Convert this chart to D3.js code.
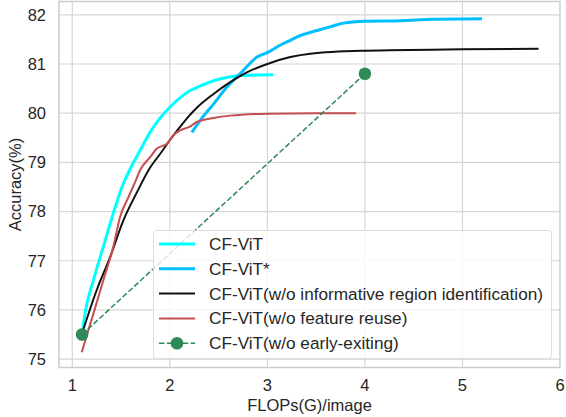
<!DOCTYPE html>
<html>
<head>
<meta charset="utf-8">
<script src="https://d3js.org/d3.v7.min.js"></script>
<style>
  body { margin: 0; background: #fff; }
  text { font-family: "Liberation Sans", Arial, sans-serif; fill: #262626; }
</style>
</head>
<body>
<div id="chart"></div>
<script>
// values
var cfvitX = [1.107, 1.13, 1.216, 1.318, 1.42, 1.51, 1.592, 1.695, 1.80, 1.90, 2.00, 2.105, 2.20, 2.31, 2.45, 2.62, 2.79, 3.06];
var cfvitY = [75.60, 75.92, 76.60, 77.28, 77.96, 78.50, 78.86, 79.24, 79.62, 79.90, 80.12, 80.31, 80.45, 80.55, 80.66, 80.74, 80.77, 80.78];

var starX = [2.226, 2.31, 2.45, 2.585, 2.72, 2.893, 3.01, 3.13, 3.235, 3.34, 3.51, 3.65, 3.78, 4.00, 4.36, 4.71, 5.20];
var starY = [79.61, 79.85, 80.19, 80.53, 80.80, 81.14, 81.24, 81.38, 81.48, 81.58, 81.68, 81.76, 81.83, 81.87, 81.88, 81.91, 81.92];

var noRegionX = [1.10, 1.25, 1.387, 1.524, 1.66, 1.80, 1.90, 2.00, 2.105, 2.20, 2.277, 2.448, 2.619, 2.79, 3.00, 3.235, 3.44, 4.00, 5.00, 5.78];
var noRegionY = [75.52, 76.40, 77.07, 77.82, 78.38, 78.90, 79.17, 79.45, 79.72, 79.95, 80.11, 80.39, 80.63, 80.83, 81.00, 81.14, 81.21, 81.27, 81.30, 81.31];

var noReuseX = [1.097, 1.216, 1.318, 1.42, 1.49, 1.575, 1.644, 1.695, 1.80, 1.867, 1.97, 2.037, 2.105, 2.20, 2.277, 2.448, 2.619, 3.00, 3.50, 3.91];
var noReuseY = [75.14, 75.92, 76.60, 77.28, 77.89, 78.29, 78.60, 78.84, 79.11, 79.28, 79.38, 79.55, 79.65, 79.72, 79.82, 79.90, 79.95, 79.99, 80.00, 80.00];

var noExitX = [1.10, 4.00];
var noExitY = [75.50, 80.80];

var xTicks = [1, 2, 3, 4, 5, 6];
var yTicks = [75, 76, 77, 78, 79, 80, 81, 82];

var names = ["CF-ViT", "CF-ViT*", "CF-ViT(w/o informative region identification)",
             "CF-ViT(w/o feature reuse)", "CF-ViT(w/o early-exiting)"];

function zip(xs, ys) { return xs.map(function (x, i) { return [x, ys[i]]; }); }

var series = [
  { name: names[0], pts: zip(cfvitX, cfvitY), color: "#00FFFF", w: 3 },
  { name: names[1], pts: zip(starX, starY), color: "#00BFFF", w: 3 },
  { name: names[2], pts: zip(noRegionX, noRegionY), color: "#111111", w: 2 },
  { name: names[3], pts: zip(noReuseX, noReuseY), color: "#C44E52", w: 2 },
  { name: names[4], pts: zip(noExitX, noExitY), color: "#2E8B57", w: 1.5, dash: "5.5,2.4", marker: true }
];

var W = 566, H = 417;
var L = 59, R = 560, T = 1.5, B = 367.5;

var svg = d3.select("#chart").append("svg").attr("width", W).attr("height", H);

var x = d3.scaleLinear().domain([0.864, 6]).range([L, R]);
var y = d3.scaleLinear().domain([74.83, 82.27]).range([B, T]);

// grid
svg.append("g").selectAll("line").data(xTicks.filter(function (d) { return d < 6; })).enter().append("line")
  .attr("x1", d => x(d)).attr("x2", d => x(d)).attr("y1", T).attr("y2", B)
  .attr("stroke", "#d6d6d6").attr("stroke-width", 1.2);
svg.append("g").selectAll("line").data(yTicks).enter().append("line")
  .attr("x1", L).attr("x2", R).attr("y1", d => y(d)).attr("y2", d => y(d))
  .attr("stroke", "#d6d6d6").attr("stroke-width", 1.2);

// frame
svg.append("rect").attr("x", L).attr("y", T).attr("width", R - L).attr("height", B - T)
  .attr("fill", "none").attr("stroke", "#cccccc").attr("stroke-width", 1.5);

// tick labels
svg.append("g").selectAll("text").data(xTicks).enter().append("text")
  .attr("x", d => x(d)).attr("y", B + 23.5).attr("text-anchor", "middle")
  .style("font-size", "16.5px").text(d => d);
svg.append("g").selectAll("text").data(yTicks).enter().append("text")
  .attr("x", L - 13).attr("y", d => y(d)).attr("dy", "0.35em").attr("text-anchor", "end")
  .style("font-size", "16.5px").text(d => d);

// axis titles
svg.append("text").attr("x", (L + R) / 2).attr("y", 410.5).attr("text-anchor", "middle")
  .style("font-size", "16.5px").text("FLOPs(G)/image");
svg.append("text").attr("transform", "translate(20.5," + ((T + B) / 2) + ") rotate(-90)")
  .attr("text-anchor", "middle").style("font-size", "16.5px").text("Accuracy(%)");

// lines
var line = d3.line().x(d => x(d[0])).y(d => y(d[1])).curve(d3.curveMonotoneX);
var plot = svg.append("g");
series.forEach(function (s) {
  plot.append("path").datum(s.pts).attr("d", line)
    .attr("fill", "none").attr("stroke", s.color).attr("stroke-width", s.w)
    .attr("stroke-dasharray", s.dash || null).attr("stroke-linejoin", "round");
  if (s.marker) {
    plot.selectAll(null).data(s.pts).enter().append("circle")
      .attr("cx", d => x(d[0])).attr("cy", d => y(d[1])).attr("r", 6.3).attr("fill", s.color);
  }
});

// legend
var lg = svg.append("g");
lg.append("rect").attr("x", 153.5).attr("y", 230.5).attr("width", 398).attr("height", 128).attr("rx", 3)
  .attr("fill", "#ffffff").attr("fill-opacity", 0.8).attr("stroke", "#dddddd").attr("stroke-width", 1);
series.forEach(function (s, i) {
  var cy = 244 + i * 24.8;
  lg.append("line").attr("x1", 159).attr("x2", 195).attr("y1", cy).attr("y2", cy)
    .attr("stroke", s.color).attr("stroke-width", s.w).attr("stroke-dasharray", s.dash || null);
  if (s.marker) lg.append("circle").attr("cx", 177).attr("cy", cy).attr("r", 6.3).attr("fill", s.color);
  lg.append("text").attr("x", 209).attr("y", cy).attr("dy", "0.35em")
    .style("font-size", "17.2px").text(s.name);
});
</script>
</body>
</html>
